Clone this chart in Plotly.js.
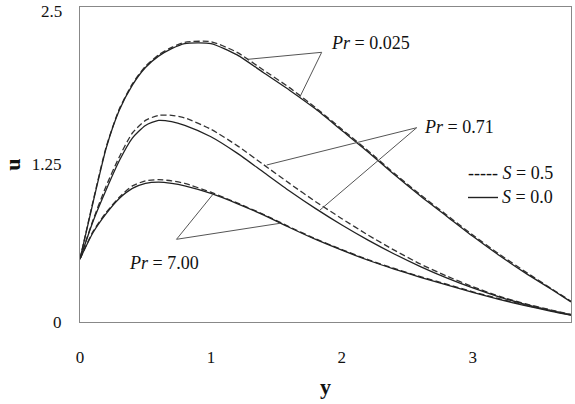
<!DOCTYPE html>
<html>
<head>
<meta charset="utf-8">
<script src="https://cdn.plot.ly/plotly-3.0.1.min.js"></script>
<style>html,body{margin:0;padding:0;background:#fff}#chart{width:575px;height:404px}</style>
</head>
<body>
<div id="chart"></div>
<script>
// Shared y-coordinate grid
const yGrid = [0, 0.1, 0.2, 0.3, 0.4, 0.5, 0.6, 0.7, 0.8, 1.0, 1.2, 1.4, 1.6, 1.8, 2.0, 2.2, 2.4, 2.6, 2.8, 3.0, 3.2, 3.4, 3.6, 3.75];

// Pr = 0.025
const uPr0025_S00 = [0.5, 0.95, 1.38, 1.68, 1.88, 2.02, 2.11, 2.17, 2.21, 2.21, 2.12, 1.98, 1.84, 1.69, 1.52, 1.35, 1.17, 1.00, 0.84, 0.68, 0.53, 0.39, 0.26, 0.16];
const uPr0025_S05 = [0.5, 0.96, 1.39, 1.69, 1.89, 2.03, 2.12, 2.18, 2.22, 2.225, 2.14, 2.00, 1.86, 1.70, 1.53, 1.36, 1.18, 1.01, 0.85, 0.69, 0.54, 0.40, 0.265, 0.165];
// Pr = 0.71
const uPr071_S00 = [0.5, 0.80, 1.05, 1.28, 1.46, 1.56, 1.60, 1.59, 1.56, 1.47, 1.34, 1.19, 1.04, 0.90, 0.77, 0.65, 0.54, 0.44, 0.35, 0.27, 0.20, 0.14, 0.09, 0.055];
const uPr071_S05 = [0.5, 0.81, 1.08, 1.31, 1.50, 1.60, 1.64, 1.64, 1.62, 1.53, 1.40, 1.25, 1.10, 0.955, 0.82, 0.69, 0.57, 0.46, 0.365, 0.28, 0.205, 0.145, 0.095, 0.06];
// Pr = 7.00
const uPr700_S00 = [0.5, 0.71, 0.86, 0.98, 1.06, 1.10, 1.11, 1.10, 1.08, 1.02, 0.94, 0.85, 0.75, 0.655, 0.57, 0.49, 0.42, 0.355, 0.295, 0.235, 0.18, 0.13, 0.085, 0.055];
const uPr700_S05 = [0.5, 0.72, 0.87, 0.99, 1.08, 1.12, 1.13, 1.12, 1.10, 1.03, 0.945, 0.855, 0.755, 0.66, 0.575, 0.495, 0.425, 0.36, 0.30, 0.24, 0.185, 0.135, 0.09, 0.058];

const xTicks = [0, 1, 2, 3];
const yTicks = [0, 1.25];          // drawn as axis tick labels
const yTickText = ['0', '1.25'];
const yTopTick = '2.5';            // top label, drawn as annotation so it is not clipped
const prLabels = ['0.025', '0.71', '7.00'];
const sLabels = ['0.5', '0.0'];

const FONT = 'Liberation Serif, Times New Roman, serif';
const solid = {color: '#222', width: 1.3, shape: 'spline', smoothing: 0.6};
const dashed = {color: '#333', width: 1.3, dash: '6px,3px', shape: 'spline', smoothing: 0.6};

const series = [
  [uPr0025_S05, dashed], [uPr0025_S00, solid],
  [uPr071_S05, dashed], [uPr071_S00, solid],
  [uPr700_S05, dashed], [uPr700_S00, solid]
];
const traces = series.map(([u, ln]) => ({
  x: yGrid, y: u, type: 'scatter', mode: 'lines', line: ln, showlegend: false, hoverinfo: 'skip'
}));

// pixel -> data helpers for annotation placement (plot area 80..571 x 7..322)
const X0 = 80, XW = 491, Y0 = 322, YH = 315, XR = 3.75, YR = 2.5;
const dx = px => (px - X0) / XW * XR;
const dy = py => (Y0 - py) / YH * YR;

const pointer = (vx, vy, ex, ey) => ({
  type: 'line', xref: 'x', yref: 'y',
  x0: dx(vx), y0: dy(vy), x1: dx(ex), y1: dy(ey),
  line: {color: '#555', width: 1}
});

const shapes = [
  pointer(321.7, 52.3, 248, 59.3), pointer(321.7, 52.3, 300, 96.7),
  pointer(416.7, 127.7, 266.7, 165), pointer(416.7, 127.7, 320, 210),
  pointer(176.5, 239.3, 213.2, 194), pointer(176.5, 239.3, 280, 223.3),
  {type: 'line', xref: 'x', yref: 'y', x0: dx(468), x1: dx(498), y0: dy(197.5), y1: dy(197.5),
   line: {color: '#222', width: 1.4}}
];

const ann = (px, py, text) => ({
  xref: 'x', yref: 'y', x: dx(px), y: dy(py), xanchor: 'left', yanchor: 'middle',
  text: text, showarrow: false, font: {family: FONT, size: 18, color: '#111'}
});

const annotations = [
  ann(329, 43, '<i>Pr</i> = ' + prLabels[0]),
  ann(422, 127, '<i>Pr</i> = ' + prLabels[1]),
  ann(127, 263, '<i>Pr</i> = ' + prLabels[2]),
  ann(466, 173, '----- <i>S</i> = ' + sLabels[0]),
  ann(500, 197, '<i>S</i> = ' + sLabels[1]),
  {xref: 'paper', yref: 'paper', x: (64 - X0) / XW, y: (Y0 - 0) / YH,
   xanchor: 'right', yanchor: 'top', text: yTopTick, showarrow: false,
   font: {family: FONT, size: 17, color: '#111'}}
];

const layout = {
  width: 575, height: 404,
  margin: {l: 80, r: 4, t: 7, b: 82},
  paper_bgcolor: '#fff', plot_bgcolor: '#fff',
  font: {family: FONT, size: 17, color: '#111'},
  xaxis: {
    range: [0, XR], tickvals: xTicks, showgrid: false, zeroline: false,
    showline: true, mirror: true, linecolor: '#888', linewidth: 1,
    ticks: '', ticklabelstandoff: 20, automargin: false,
    tickfont: {family: FONT, size: 17, color: '#111'},
    title: {text: '<b>y</b>', font: {family: FONT, size: 22, color: '#111'}, standoff: 12}
  },
  yaxis: {
    range: [0, YR], tickvals: yTicks, ticktext: yTickText, showgrid: false, zeroline: false,
    showline: true, mirror: true, linecolor: '#888', linewidth: 1,
    ticks: '', ticklabelstandoff: 14, automargin: false,
    tickfont: {family: FONT, size: 17, color: '#111'},
    title: {text: '<b>u</b>', font: {family: FONT, size: 22, color: '#111'}, standoff: 18}
  },
  shapes: shapes,
  annotations: annotations
};

Plotly.newPlot('chart', traces, layout, {displayModeBar: false, staticPlot: true});
</script>
</body>
</html>
